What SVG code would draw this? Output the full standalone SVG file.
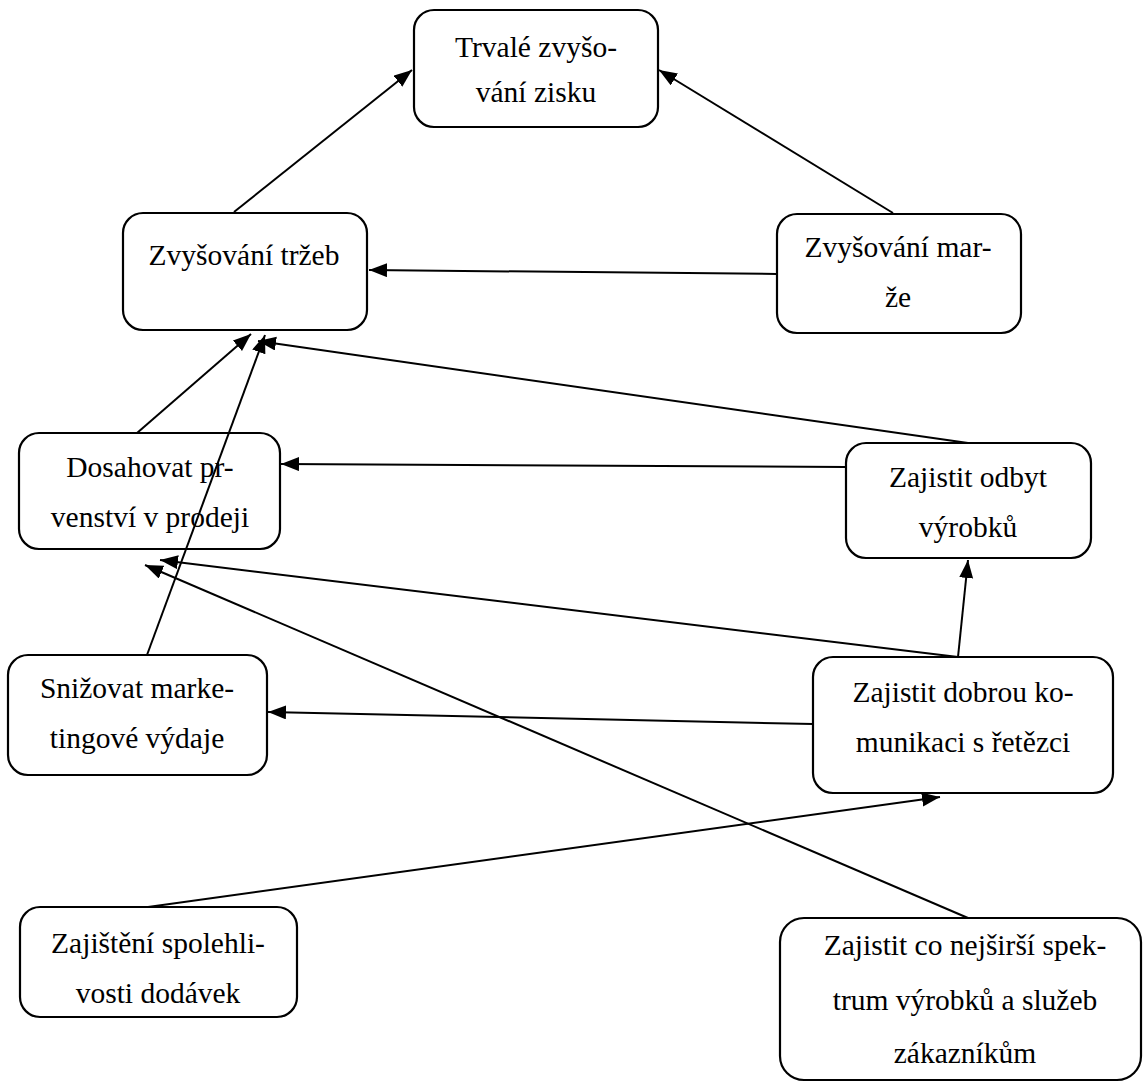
<svg xmlns="http://www.w3.org/2000/svg" width="1143" height="1083" viewBox="0 0 1143 1083">
<style>
.box{fill:#fff;stroke:#000;stroke-width:2.2}
.t{font-family:"Liberation Serif","Times New Roman",serif;font-size:29.5px;fill:#000;text-anchor:middle}
.c line{stroke:#000;stroke-width:2}
</style>
<defs>
<marker id="ah" markerUnits="userSpaceOnUse" markerWidth="20" markerHeight="16" refX="18" refY="7" orient="auto">
<path d="M0,0 L18,7 L0,14 Z" fill="#000"/>
</marker>
</defs>
<rect width="1143" height="1083" fill="#fff"/>
<g id="n1"><rect class="box" x="414" y="10" width="244" height="117" rx="20"/>
<text class="t" x="536" y="57">Trvalé zvyšo-</text><text class="t" x="536" y="102">vání zisku</text></g>
<g id="n2"><rect class="box" x="123" y="213" width="244" height="117" rx="20"/>
<text class="t" x="244" y="265">Zvyšování tržeb</text></g>
<g id="n3"><rect class="box" x="777" y="214" width="244" height="119" rx="20"/>
<text class="t" x="898" y="257">Zvyšování mar-</text><text class="t" x="898" y="307">že</text></g>
<g id="n4"><rect class="box" x="19" y="433" width="261" height="116" rx="20"/>
<text class="t" x="150" y="477">Dosahovat pr-</text><text class="t" x="150" y="527">venství v prodeji</text></g>
<g id="n5"><rect class="box" x="846" y="443" width="245" height="115" rx="20"/>
<text class="t" x="968" y="487">Zajistit odbyt</text><text class="t" x="968" y="537">výrobků</text></g>
<g id="n6"><rect class="box" x="8" y="655" width="259" height="120" rx="20"/>
<text class="t" x="137" y="698">Snižovat marke-</text><text class="t" x="137" y="748">tingové výdaje</text></g>
<g id="n7"><rect class="box" x="813" y="657" width="300" height="136" rx="20"/>
<text class="t" x="963" y="702">Zajistit dobrou ko-</text><text class="t" x="963" y="752">munikaci s řetězci</text></g>
<g id="n8"><rect class="box" x="20" y="907" width="277" height="110" rx="20"/>
<text class="t" x="158" y="953">Zajištění spolehli-</text><text class="t" x="158" y="1003">vosti dodávek</text></g>
<g id="n9"><rect class="box" x="780" y="918" width="361" height="162" rx="24"/>
<text class="t" x="965" y="955">Zajistit co nejširší spek-</text><text class="t" x="965" y="1010">trum výrobků a služeb</text><text class="t" x="965" y="1063">zákazníkům</text></g>
<g class="c" id="connectors">
<line x1="234" y1="212" x2="412" y2="70" marker-end="url(#ah)"/>
<line x1="893" y1="213" x2="659" y2="70" marker-end="url(#ah)"/>
<line x1="777" y1="274" x2="369" y2="270" marker-end="url(#ah)"/>
<line x1="137" y1="433" x2="251" y2="334" marker-end="url(#ah)"/>
<line x1="147" y1="655" x2="265" y2="335" marker-end="url(#ah)"/>
<line x1="968" y1="443" x2="258" y2="341" marker-end="url(#ah)"/>
<line x1="846" y1="467" x2="281" y2="464" marker-end="url(#ah)"/>
<line x1="958" y1="657" x2="968" y2="560" marker-end="url(#ah)"/>
<line x1="958" y1="657" x2="160" y2="560" marker-end="url(#ah)"/>
<line x1="813" y1="724" x2="268" y2="712" marker-end="url(#ah)"/>
<line x1="148" y1="907" x2="940" y2="797" marker-end="url(#ah)"/>
<line x1="968" y1="918" x2="145" y2="565" marker-end="url(#ah)"/>
</g>
</svg>
